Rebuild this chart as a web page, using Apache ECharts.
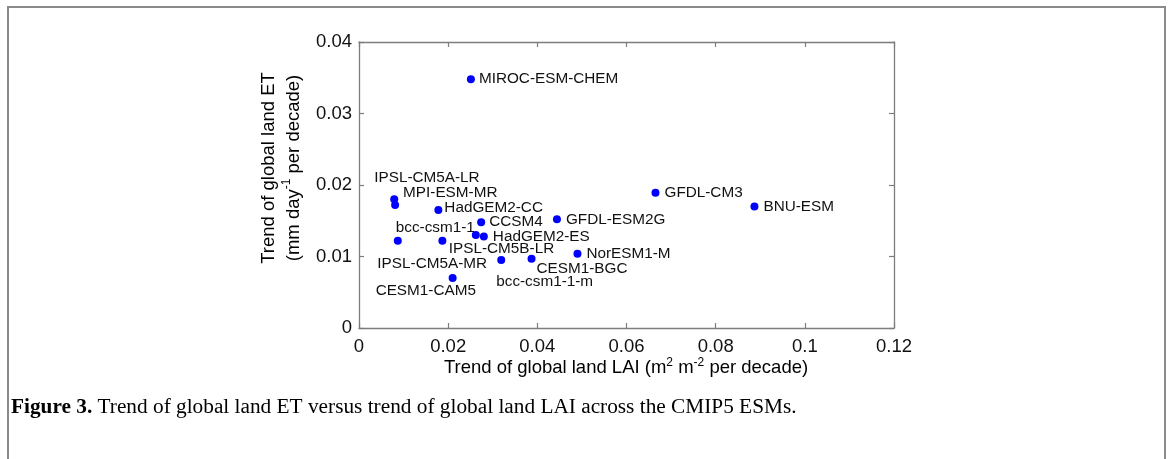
<!DOCTYPE html>
<html>
<head>
<meta charset="utf-8">
<title>Trend of global land ET vs LAI</title>
<script src="https://cdn.jsdelivr.net/npm/echarts@6/dist/echarts.min.js"></script>
<style>
  html, body { margin: 0; padding: 0; background: #ffffff; }
  #chart { width: 1171px; height: 459px; }
</style>
</head>
<body>
<div id="chart"></div>
<script>
// CMIP5 Earth system models
const models = [
  'MIROC-ESM-CHEM', 'IPSL-CM5A-LR', 'MPI-ESM-MR', 'HadGEM2-CC',
  'CCSM4', 'GFDL-ESM2G', 'GFDL-CM3', 'BNU-ESM',
  'bcc-csm1-1', 'HadGEM2-ES', 'IPSL-CM5B-LR', 'IPSL-CM5A-MR',
  'NorESM1-M', 'CESM1-BGC', 'bcc-csm1-1-m', 'CESM1-CAM5'
];
// Trend of global land LAI (m2 m-2 per decade)
const laiTrend = [
  0.0251, 0.0079, 0.0081, 0.0178,
  0.0274, 0.0444, 0.0665, 0.0887,
  0.0087, 0.0280, 0.0262, 0.0187,
  0.0490, 0.0387, 0.0319, 0.0210
];
// Trend of global land ET (mm day-1 per decade)
const etTrend = [
  0.0348, 0.0180, 0.0172, 0.0165,
  0.0148, 0.0152, 0.0189, 0.0170,
  0.0122, 0.0128, 0.0130, 0.0122,
  0.0104, 0.0097, 0.0095, 0.0070
];
const xTicks = { min: 0, max: 0.12, interval: 0.02 };
const yTicks = { min: 0, max: 0.04, interval: 0.01 };

// Where each model name sits relative to its dot: [left edge dx, centre dy] in px
const labelOffsets = {
  'MIROC-ESM-CHEM': [8, 0],
  'IPSL-CM5A-LR': [-20, -22],
  'MPI-ESM-MR': [8, -12],
  'HadGEM2-CC': [6, -2],
  'CCSM4': [8, 0],
  'GFDL-ESM2G': [9, 0],
  'GFDL-CM3': [9, 0],
  'BNU-ESM': [9, 0],
  'bcc-csm1-1': [-2, -13],
  'HadGEM2-ES': [9, 0],
  'IPSL-CM5B-LR': [-27, 14],
  'IPSL-CM5A-MR': [-65, 23],
  'NorESM1-M': [9, 0],
  'CESM1-BGC': [5, 10],
  'bcc-csm1-1-m': [-5, 22],
  'CESM1-CAM5': [-77, 13]
};

const SANS = '"Liberation Sans", Arial, Helvetica, sans-serif';
const SERIF = '"Liberation Serif", "Times New Roman", serif';
const AXIS_GREY = '#7d7d7d';
const TEXT = '#111111';
const SYM = 8;

const points = models.map((name, i) => {
  const off = labelOffsets[name] || [8, 0];
  return {
    name: name,
    value: [laiTrend[i], etTrend[i]],
    label: {
      show: true,
      formatter: name,
      position: [SYM / 2 + off[0], SYM / 2 + off[1]],
      align: 'left',
      verticalAlign: 'middle',
      color: TEXT,
      fontFamily: SANS,
      fontSize: 15.3
    }
  };
});

const supStyle = { fontFamily: SANS, fontSize: 12, color: TEXT, verticalAlign: 'top', lineHeight: 22 };
const baseStyle = { fontFamily: SANS, fontSize: 18.5, color: TEXT, lineHeight: 22 };

function valueAxis(cfg, position, showLabels) {
  return {
    type: 'value',
    position: position,
    min: cfg.min,
    max: cfg.max,
    interval: cfg.interval,
    axisLine: { show: true, onZero: false, lineStyle: { color: AXIS_GREY, width: 1.3 } },
    axisTick: { show: true, inside: true, length: 5, lineStyle: { color: AXIS_GREY, width: 1.2 } },
    axisLabel: {
      show: showLabels,
      color: TEXT,
      fontFamily: SANS,
      fontSize: 18.5,
      margin: position === 'bottom' ? 9 : 7
    },
    splitLine: { show: false }
  };
}

const chart = echarts.init(document.getElementById('chart'), null, { renderer: 'canvas' });

chart.setOption({
  animation: false,
  backgroundColor: '#ffffff',
  grid: { left: 359, top: 42, width: 535, height: 286, containLabel: false },
  xAxis: [
    valueAxis(xTicks, 'bottom', true),
    valueAxis(xTicks, 'top', false)
  ],
  yAxis: [
    valueAxis(yTicks, 'left', true),
    valueAxis(yTicks, 'right', false)
  ],
  series: [{
    type: 'scatter',
    xAxisIndex: 0,
    yAxisIndex: 0,
    symbol: 'circle',
    symbolSize: SYM,
    itemStyle: { color: '#0000ff', opacity: 1 },
    data: points
  }],
  graphic: [
    {
      // figure frame
      type: 'rect',
      silent: true,
      shape: { x: 8, y: 7, width: 1157, height: 480 },
      style: { fill: 'none', stroke: '#8a8a8a', lineWidth: 2 }
    },
    {
      // x-axis title
      type: 'text',
      silent: true,
      x: 626,
      y: 368,
      style: {
        text: '{b|Trend of global land LAI (m}{s|2}{b| m}{s|-2}{b| per decade)}',
        align: 'center',
        verticalAlign: 'middle',
        rich: { b: baseStyle, s: supStyle }
      }
    },
    {
      // y-axis title, two lines reading upward
      type: 'text',
      silent: true,
      x: 281,
      y: 168,
      rotation: Math.PI / 2,
      style: {
        text: '{b|Trend of global land ET}\n{b|(mm day}{s|-1}{b| per decade)}',
        align: 'center',
        verticalAlign: 'middle',
        lineHeight: 25,
        rich: {
          b: Object.assign({}, baseStyle, { lineHeight: 25 }),
          s: Object.assign({}, supStyle, { lineHeight: 25 })
        }
      }
    },
    {
      // caption
      type: 'text',
      silent: true,
      x: 11,
      y: 407,
      style: {
        text: '{h|Figure 3.}{t| Trend of global land ET versus trend of global land LAI across the CMIP5 ESMs.}',
        align: 'left',
        verticalAlign: 'middle',
        rich: {
          h: { fontFamily: SERIF, fontWeight: 'bold', fontSize: 21.3, color: '#111' },
          t: { fontFamily: SERIF, fontSize: 21.3, color: '#111' }
        }
      }
    }
  ]
});
</script>
</body>
</html>
